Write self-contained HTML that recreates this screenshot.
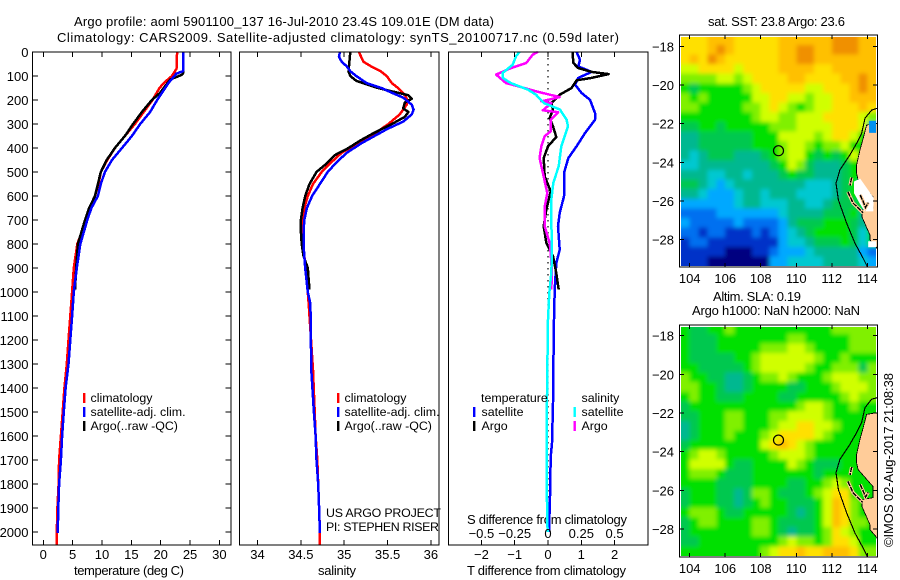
<!DOCTYPE html>
<html>
<head>
<meta charset="utf-8">
<title>Argo profile</title>
<style>
html,body{margin:0;padding:0;background:#fff;}
svg{display:block;}
text{font-family:"Liberation Sans",sans-serif;font-size:13px;fill:#000;}
text.lg{font-size:12.4px;}
</style>
</head>
<body>
<svg id="chart" width="900" height="580" viewBox="0 0 900 580" xmlns="http://www.w3.org/2000/svg">
<defs>
<filter id="soft" x="-10%" y="-10%" width="120%" height="120%"><feGaussianBlur stdDeviation="2"/></filter>
<clipPath id="clip-sst"><rect x="681" y="37" width="195" height="229"/></clipPath>
<clipPath id="clip-sla"><rect x="681" y="327" width="195" height="229"/></clipPath>
</defs>
<rect width="900" height="580" fill="#fff"/>
<text x="74" y="26" textLength="420">Argo profile: aoml 5901100_137 16-Jul-2010 23.4S 109.01E (DM data)</text>
<text x="57" y="42" textLength="562">Climatology: CARS2009. Satellite-adjusted climatology: synTS_20100717.nc (0.59d later)</text>
<text x="74" y="575" textLength="110">temperature (deg C)</text>
<text x="318" y="575" textLength="38">salinity</text>
<text x="467" y="575" textLength="159">T difference from climatology</text>
<text x="467" y="524" textLength="160">S difference from climatology</text>
<text class="lg" x="326" y="517" textLength="115">US ARGO PROJECT</text>
<text class="lg" x="326" y="531" textLength="113">PI: STEPHEN RISER</text>
<text x="708" y="26" textLength="137">sat. SST: 23.8 Argo: 23.6</text>
<text x="713" y="301" textLength="88">Altim. SLA: 0.19</text>
<text x="692" y="315" textLength="168">Argo h1000: NaN h2000: NaN</text>
<text transform="translate(893 547) rotate(-90)" textLength="174">©IMOS 02-Aug-2017 21:08:38</text>
</svg>
<script>
// ---- profile data ----
const depthTicks = [0,100,200,300,400,500,600,700,800,900,1000,1100,1200,1300,1400,1500,1600,1700,1800,1900,2000];
const tempTicks = [0,5,10,15,20,25,30];
const salTicks = [34,34.5,35,35.5,36];
const salTickLabels = ['34','34.5','35','35.5','36'];
const tDiffTicks = [-2,-1,0,1,2];
const tDiffLabels = ['\u22122','\u22121','0','1','2'];
const sDiffTicks = [-0.5,-0.25,0,0.25,0.5];
const sDiffLabels = ['\u22120.5','\u22120.25','0','0.25','0.5'];

const climTempDepth = [0,70,100,130,150,200,300,400,450,500,550,600,700,800,900,1000,1100,1200,1300,1400,1500,1600,1700,1800,1900,2000,2055];
const climTemp = [22.8,22.7,21.9,20.5,19.8,18.6,15.6,12.2,10.9,9.8,9.4,8.8,7.3,5.8,5.2,4.9,4.6,4.3,4.0,3.6,3.3,3.0,2.7,2.6,2.4,2.3,2.3];
const satTempDepth = [0,80,90,130,200,250,300,350,400,450,500,550,600,650,700,800,900,1000,1100,1200,1300,1400,1500,1600,1700,1800,1900,2005];
const satTemp = [23.8,23.8,22.7,21.3,19.4,18.2,16.5,15.1,13.4,11.7,10.5,9.8,9.3,8.2,7.5,6.3,5.7,5.2,4.9,4.6,4.3,3.8,3.5,3.2,3.0,2.7,2.55,2.45];
const argoTempDepth = [0,90,95,115,170,200,250,300,350,400,450,500,600,650,700,800,900,990];
const argoTemp = [23.8,23.8,23.6,21.6,19.9,18.5,16.8,15.3,13.9,12.2,10.8,9.8,8.8,7.8,7.1,5.9,5.6,5.4];

const climSalDepth = [0,40,60,80,100,130,150,180,200,220,260,300,340,380,420,460,500,550,600,650,700,750,800,850,900,1000,1050,1325,1500,1600,1700,1800,1900,2000,2055];
const climSal = [35.17,35.22,35.31,35.42,35.49,35.55,35.62,35.70,35.73,35.72,35.64,35.51,35.35,35.16,34.97,34.85,34.74,34.64,34.58,34.54,34.52,34.52,34.52,34.54,34.56,34.58,34.59,34.64,34.66,34.67,34.69,34.70,34.71,34.72,34.72];
const satSalDepth = [0,20,40,60,80,100,130,150,170,190,220,240,260,290,320,350,380,420,460,500,550,600,650,700,750,800,850,900,1000,1050,1325,1500,1600,1700,1800,1900,2005];
const satSal = [34.95,34.94,34.97,35.03,35.07,35.14,35.26,35.43,35.55,35.68,35.78,35.8,35.78,35.68,35.5,35.35,35.2,35.03,34.91,34.81,34.72,34.63,34.57,34.54,34.53,34.53,34.54,34.55,34.58,34.61,34.62,34.65,34.67,34.68,34.70,34.71,34.72];
const argoSalDepth = [0,80,100,120,135,150,170,180,195,210,235,250,270,300,340,370,400,430,470,500,550,600,650,700,750,800,850,900,950,990];
const argoSal = [35.07,35.05,35.07,35.14,35.26,35.39,35.62,35.74,35.78,35.70,35.68,35.74,35.70,35.55,35.33,35.18,35.05,34.89,34.78,34.68,34.6,34.55,34.52,34.5,34.5,34.51,34.53,34.58,34.59,34.6];

const satTDiffDepth = [0,32,60,83,108,136,171,199,254,282,338,393,442,504,601,671,726,824,879,990,1115,1325,1464,1630,1686,1853,1999];
const satTDiff = [0.86,0.96,0.91,1.31,0.91,0.81,1.01,1.26,1.41,1.41,1.11,0.86,0.61,0.48,0.48,0.35,0.30,0.35,0.25,0.20,0.18,0.16,0.15,0.12,0.08,0.06,0.03];
const argoTDiffDepth = [0,46,67,83,92,108,118,150,178,213,240,275,310,354,393,442,518,581,657,726,796,851,921,990];
const argoTDiff = [0.74,0.76,0.91,1.31,1.82,1.31,0.86,0.71,0.35,0.1,0.15,0.05,0.15,0.25,0,-0.13,-0.10,0.08,-0.05,-0.13,-0.05,0.15,0.25,0.32];
const satSDiffDepth = [0,18,53,87,108,129,157,178,213,240,282,310,393,476,546,615,699,838,921,1004,1115,1325,1464,1853,1999];
const satSDiff = [-0.215,-0.24,-0.265,-0.34,-0.34,-0.28,-0.15,-0.09,-0.03,0.09,0.14,0.15,0.10,0.08,0.04,0.025,0.025,0.03,0.025,0.01,0,-0.005,-0.008,-0.008,-0.003];
const argoSDiffDepth = [0,11,46,67,94,129,150,164,188,206,213,243,251,282,331,351,393,442,504,588,644,726,797,838,921,990];
const argoSDiff = [-0.076,-0.114,-0.164,-0.278,-0.39,-0.316,-0.177,-0.088,0.088,-0.05,0.025,-0.038,0.076,0.02,0.02,-0.025,-0.05,-0.063,-0.038,-0.005,-0.025,-0.025,0.013,0.02,0.03,0.025];

// ---- map data (each character is a colour-class value, rows north to south, 0.5 degree cells) ----
const lonTicks = [104,106,108,110,112,114];
const latTicks = [-18,-20,-22,-24,-26,-28];
const sstRows = [
'aaabbbaaaaabbbbbbcccbb',
'aaabcbaaaaabbccbbcccbb',
'abacbaaaaaabbccbbbbbbb',
'99aaaa9aaaabbbbaabbbbb',
'88889989aaaabbaaaabbcb',
'767777789aaaaa99aaabcb',
'87877777 99aa99899aabbb'.replace(' ','').slice(0,22),
'88777778 89a987899aaaba'.replace(' ','').slice(0,22),
'7777777789988999aaaa98',
'6677677777888999'+'9aaa95',
'5566666677799998'+'9aa977',
'5566666677789987'+'889777',
'5456665556789976767977',
'4455555555679865556777',
'5554455455567665556777',
'6654345555555544456747',
'5543334554555444456777',
'3333334554445544566677',
'2222333333345555666757',
'3222223222235666777657',
'2212211121234567777647',
'1221111111134456667647',
'1111100011233345555532',
'1110000000334444555543'
];
const slaRows = [
'7667787777777777788888',
'7666777777778877777888',
'7666777778889987777888',
'7666667789999998778777',
'7766666789999987788868',
'8776655678898777899988',
'8877655677776677789998',
'7877666777766777778988',
'6777777777777899877877',
'6677788777889999877777',
'5677788777899aa9987777',
'5677787778'+'9aaaa9'+'877777',
'677777777'+'9aba98'+'7777777',
'7899877777899987777777',
'7999976677779876667777',
'7888766677777776777777',
'7777666677776677898777',
'6777665688766678'+'9aa777',
'67776656787766679ba877',
'7888766777776567'+'9ba877',
'67887777887666679ba887',
'6777777788765667'+'8a9877',
'6677777777789887'+'8aa977',
'7777777778'+'9aabaa'+'bbba88'
];
const landLon = [113.96,113.77,113.59,113.4,113.4,113.48,114.32,114.32,113.7,113.7,114.15,114.15,114.54,114.56,114.56];
const landLat = [-22.07,-22.76,-23.36,-24.14,-24.57,-24.92,-25.8,-26.38,-26.48,-26.84,-27.78,-28.03,-28.45,-28.5,-21.98];
const shelfLon = [114.56,114.24,113.87,113.68,113.4,113.02,112.46,112.24,112.37,112.84,113.31,113.77,114];
const shelfLat = [-21.2,-21.29,-21.72,-22.5,-23.02,-23.62,-24.4,-25.09,-25.96,-27.17,-28.21,-28.99,-29.42];
const bayLon = [113.25,113.6,114.36,114.34,113.85,113.55,113.25];
const bayLat = [-25.0,-24.85,-25.85,-26.55,-26.55,-26.1,-25.6];
const islandALon = [112.91,113.2,113.76];
const islandALat = [-25.54,-26.12,-26.63];
const islandBLon = [113.6,113.75,113.9,114.05];
const islandBLat = [-25.7,-26.0,-26.35,-26.1];
const islandCLon = [113.12,113.03];
const islandCLat = [-24.79,-25.2];
const profileLon = 109;
const profileLat = -23.4;

// ---- drawing ----
const NS = 'http://www.w3.org/2000/svg';
const svg = document.getElementById('chart');
const palette = {'0':'#000080','1':'#0030c8','2':'#0070f0','3':'#00a8ff','4':'#00c8d0','5':'#00b890','6':'#00c850','7':'#00e000','8':'#80f000','9':'#d0ff00','a':'#ffe000','b':'#ffc000','c':'#f09000'};

function make(tag, attrs, parent){
  const e = document.createElementNS(NS, tag);
  for (const k in attrs) e.setAttribute(k, attrs[k]);
  (parent || svg).appendChild(e);
  return e;
}
const yDepth = d => 52 + d * 0.24;
const xTemp = t => 43.3 + t * 5.87;
const xSal = s => 257.5 + (s - 34) * 86.7;
const xTDiff = t => 548 + t * 33.3;
const xSDiff = s => 548 + s * 133.2;
const xLon = l => 689.7 + (l - 104) * 17.76;
const yLatTop = l => 46.7 + (-18 - l) * 19.26;
const yLatBot = l => 335.7 + (-18 - l) * 19.33;

function tick(x1, y1, x2, y2, name){
  const t = make('line', {x1, y1, x2, y2, stroke:'#000', 'stroke-width':1, 'shape-rendering':'crispEdges'});
  
  
}
function label(x, y, str, anchor, name){
  const t = make('text', {x, y, 'text-anchor':anchor});
  t.textContent = str;
  
  
  return t;
}
function frame(x, y, w, h, name){
  const r = make('rect', {x, y, width:w, height:h, fill:'none', stroke:'#000', 'stroke-width':1.4, 'shape-rendering':'crispEdges'});
  
  
}
function profile(depths, values, xf, colour, name){
  const pts = depths.map((d, i) => xf(values[i]).toFixed(1) + ',' + yDepth(d).toFixed(1)).join(' ');
  const p = make('polyline', {points:pts, fill:'none', stroke:colour, 'stroke-width':2.5, 'stroke-linejoin':'round', 'shape-rendering':'crispEdges'});
  
  
}
function legendRow(barX, textX, baseY, colour, str, name){
  const b = make('rect', {x:barX, y:baseY - 9, width:2.4, height:10, fill:colour});
  
  
  label(textX, baseY, str, 'start', name + '-label').setAttribute('class', 'lg');
}

// profile panels
const T = 52, B = 545;
const panels = [[32.5, 231], [239.5, 439], [448.5, 648]];
profile(climTempDepth, climTemp, xTemp, '#ff0000', 'climatology-temperature-line');
profile(argoTempDepth, argoTemp, xTemp, '#000000', 'argo-temperature-line');
profile(satTempDepth, satTemp, xTemp, '#0000ff', 'satellite-temperature-line');
profile(climSalDepth, climSal, xSal, '#ff0000', 'climatology-salinity-line');
profile(argoSalDepth, argoSal, xSal, '#000000', 'argo-salinity-line');
profile(satSalDepth, satSal, xSal, '#0000ff', 'satellite-salinity-line');

// zero line of the difference panel
const zero = make('line', {x1:xTDiff(0), y1:T, x2:xTDiff(0), y2:yDepth(2000), stroke:'#000', 'stroke-width':1.2, 'stroke-dasharray':'1.5 4.5'});


profile(satTDiffDepth, satTDiff, xTDiff, '#0000ff', 'satellite-t-difference-line');
profile(argoTDiffDepth, argoTDiff, xTDiff, '#000000', 'argo-t-difference-line');
profile(argoSDiffDepth, argoSDiff, xSDiff, '#ff00ff', 'argo-s-difference-line');
profile(satSDiffDepth, satSDiff, xSDiff, '#00ffff', 'satellite-s-difference-line');

frame(panels[0][0], T, panels[0][1] - panels[0][0], B - T, 'temperature-panel-frame');
frame(panels[1][0], T, panels[1][1] - panels[1][0], B - T, 'salinity-panel-frame');
frame(panels[2][0], T, panels[2][1] - panels[2][0], B - T, 'difference-panel-frame');

depthTicks.forEach(d => {
  const y = yDepth(d);
  label(28.5, y + 5, String(d), 'end', 'depth-tick-label');
  if (d > 0) {
    tick(32.5, y, 38, y, 'depth-tick-left');
    tick(225.5, y, 231, y, 'depth-tick-right');
  }
});
tempTicks.forEach(t => {
  tick(xTemp(t), T, xTemp(t), T + 5, 'temperature-tick-top');
  tick(xTemp(t), B - 5, xTemp(t), B, 'temperature-tick-bottom');
  label(xTemp(t), 559, String(t), 'middle', 'temperature-tick-label');
});
salTicks.forEach((s, i) => {
  tick(xSal(s), T, xSal(s), T + 5, 'salinity-tick-top');
  tick(xSal(s), B - 5, xSal(s), B, 'salinity-tick-bottom');
  label(xSal(s), 559, salTickLabels[i], 'middle', 'salinity-tick-label');
});
tDiffTicks.forEach((t, i) => {
  tick(xTDiff(t), T, xTDiff(t), T + 5, 'difference-tick-top');
  tick(xTDiff(t), B - 5, xTDiff(t), B, 'difference-tick-bottom');
  label(xTDiff(t), 559, tDiffLabels[i], 'middle', 't-difference-tick-label');
});
sDiffTicks.forEach((s, i) => {
  label(xSDiff(s), 538, sDiffLabels[i], 'middle', 's-difference-tick-label');
});

// legends
legendRow(83, 90.5, 402, '#ff0000', 'climatology', 'legend-climatology-temperature');
legendRow(83, 90.5, 416, '#0000ff', 'satellite-adj. clim.', 'legend-satellite-temperature');
legendRow(83, 90.5, 430, '#000000', 'Argo(..raw -QC)', 'legend-argo-temperature');
legendRow(337, 344.5, 402, '#ff0000', 'climatology', 'legend-climatology-salinity');
legendRow(337, 344.5, 416, '#0000ff', 'satellite-adj. clim.', 'legend-satellite-salinity');
legendRow(337, 344.5, 430, '#000000', 'Argo(..raw -QC)', 'legend-argo-salinity');
label(481, 402, 'temperature', 'start', 'legend-temperature-heading').setAttribute('class', 'lg');
label(581.5, 402, 'salinity', 'start', 'legend-salinity-heading').setAttribute('class', 'lg');
legendRow(473, 481.5, 416, '#0000ff', 'satellite', 'legend-satellite-t-difference');
legendRow(473, 481.5, 430, '#000000', 'Argo', 'legend-argo-t-difference');
legendRow(573.5, 581.5, 416, '#00ffff', 'satellite', 'legend-satellite-s-difference');
legendRow(573.5, 581.5, 430, '#ff00ff', 'Argo', 'legend-argo-s-difference');

// maps
function polyPts(lons, lats, yf){
  return lons.map((l, i) => xLon(l).toFixed(1) + ',' + yf(lats[i]).toFixed(1)).join(' ');
}
function drawMap(rows, yf, top, bottom, prefix, isSst, clipId){
  const clipGroup = make('g', {'clip-path':'url(#' + clipId + ')'});
  
  
  const field = make('g', {filter:'url(#soft)'}, clipGroup);
  rows.forEach((row, r) => {
    for (let c = 0; c < row.length; c++) {
      let x0 = xLon(103.5 + c * 0.5), x1 = xLon(104 + c * 0.5);
      let y0 = yf(-17.4 - r * 0.5), y1 = yf(-17.9 - r * 0.5);
      if (c === 0) x0 -= 14;
      if (c === row.length - 1) x1 += 14;
      if (r === 0) y0 -= 14;
      if (r === rows.length - 1) y1 += 14;
      const cell = make('rect', {x:x0.toFixed(1), y:y0.toFixed(1), width:(x1 - x0 + 0.4).toFixed(1), height:(y1 - y0 + 0.4).toFixed(1), fill:palette[row[c]], 'shape-rendering':'crispEdges'}, field);
      
      
    }
  });
  const land = make('polygon', {points:polyPts(landLon, landLat, yf), fill:'#ffcc99', stroke:'#000', 'stroke-width':0.8, 'shape-rendering':'crispEdges'});
  
  
  if (isSst) {
    const bay = make('polygon', {points:polyPts(bayLon, bayLat, yf), fill:'#fff', stroke:'none'});
    
    
  }
  [[islandALon, islandALat, 'island-a'], [islandBLon, islandBLat, 'island-b'], [islandCLon, islandCLat, 'island-c']].forEach(s => {
    const halo = make('polyline', {points:polyPts(s[0], s[1], yf), fill:'none', stroke:'#ffcc99', 'stroke-width':3.4});
    
    
    const isl = make('polyline', {points:polyPts(s[0], s[1], yf), fill:'none', stroke:'#000', 'stroke-width':1.4, 'stroke-dasharray':'5 1', 'shape-rendering':'crispEdges'});
    
    
  });
  const shelf = make('polyline', {points:polyPts(shelfLon, shelfLat, yf), fill:'none', stroke:'#000', 'stroke-width':1.1, 'shape-rendering':'crispEdges'});
  
  
  const circle = make('circle', {cx:xLon(profileLon), cy:yf(profileLat), r:5, fill:'none', stroke:'#000', 'stroke-width':1.2});
  
  
  frame(679.5, top, 198, bottom - top, prefix + '-frame');
  lonTicks.forEach(l => {
    tick(xLon(l), top, xLon(l), top + 4, prefix + '-lon-tick-top');
    tick(xLon(l), bottom - 4, xLon(l), bottom, prefix + '-lon-tick-bottom');
    label(xLon(l), bottom + 16, String(l), 'middle', prefix + '-lon-tick-label');
  });
  latTicks.forEach(l => {
    tick(679.5, yf(l), 684, yf(l), prefix + '-lat-tick-left');
    tick(873, yf(l), 877.5, yf(l), prefix + '-lat-tick-right');
    label(674, yf(l) + 5, '\u2212' + Math.abs(l), 'end', prefix + '-lat-tick-label');
  });
}
drawMap(sstRows, yLatTop, 35, 267, 'sst-map', true, 'clip-sst');
drawMap(slaRows, yLatBot, 325, 557, 'sla-map', false, 'clip-sla');

// small details on the SST map
const warm = make('rect', {x:xLon(114.05), y:yLatTop(-28.1), width:8, height:6, fill:'#fff'});


const spot = make('rect', {x:xLon(114.1), y:yLatTop(-21.85), width:7, height:12, fill:'#0090f0'});


</script>
</body>
</html>
